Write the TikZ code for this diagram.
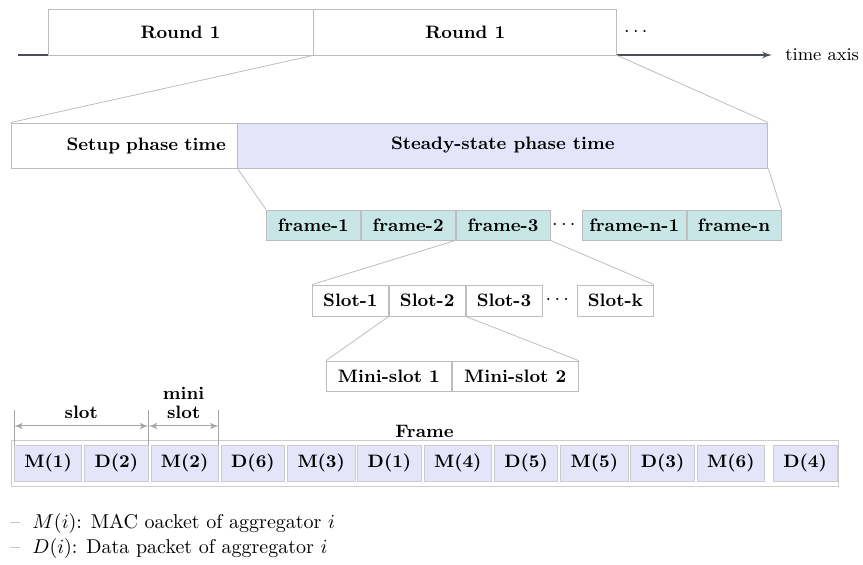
\documentclass[tikz,border=0pt]{standalone}
\usepackage{amsmath}
\usepackage{tikz}
\usetikzlibrary{arrows,positioning}
\definecolor{edgegray}{HTML}{BDBDBD}
\definecolor{axisgray}{HTML}{4A4F57}
\definecolor{phaseblue}{HTML}{E5E5FA}
\definecolor{frameteal}{HTML}{C8E6E6}
\tikzset{
  basenode/.style = {align=center, inner sep=0pt, font=\small\bfseries, draw=edgegray, fill=white},
  RoundNode/.style = {basenode, minimum height=23pt},
  PhaseNode/.style = {basenode, minimum height=22.5pt},
  FrameNode/.style = {basenode, fill=frameteal, inner xsep=3.5pt, minimum width=47pt, minimum height=15pt},
  SlotNode/.style = {basenode, minimum width=38pt, minimum height=15.5pt},
  MiniNode/.style = {basenode, minimum height=15pt},
  CellNode/.style = {basenode, fill=phaseblue, draw=gray!40, inner xsep=5pt, minimum height=18pt},
  Dots/.style = {inner sep=0pt},
  ZoomLine/.style = {draw=edgegray, line width=0.4pt},
  DimLine/.style = {draw=gray!70, line width=0.5pt}
}
\begin{document}
\begin{tikzpicture}[x=0.5pt,y=-0.5pt,>=latex']
\useasboundingbox (0,0) rectangle (863,565);
\coordinate (axisstart) at (18,55);
\node[anchor=west, inner sep=0pt, font=\small] (timeaxis) at (785,55) {time axis};
\draw[->, axisgray, line width=0.7pt, shorten >=6.5pt] (axisstart) -- (timeaxis.west);
\node[RoundNode, minimum width=132.5pt] (round1) at (180.5,32) {Round 1};
\node[RoundNode, minimum width=151.5pt, right=0pt of round1] (round2) {Round 1};
\node[Dots] (rounddots) at (637.5,32) {$\cdots$};

\node[PhaseNode, text width=102pt, inner xsep=5.5pt, align=right] (setup) at (124,145.5) {Setup phase time};
\node[PhaseNode, fill=phaseblue, minimum width=265pt, right=0pt of setup] (steady) {Steady-state phase time};
\draw[ZoomLine] (round2.south west) -- (setup.north west);
\draw[ZoomLine] (round2.south east) -- (steady.north east);

\node[FrameNode, anchor=west] (frame1) at (266,225) {frame-1};
\node[FrameNode, right=0pt of frame1] (frame2) {frame-2};
\node[FrameNode, right=0pt of frame2] (frame3) {frame-3};
\node[Dots] (framedots) at (565.5,225) {$\cdots$};
\node[FrameNode, anchor=west] (framen1) at (582,225) {frame-n-1};
\node[FrameNode, right=0pt of framen1] (framen) {frame-n};
\draw[ZoomLine] (setup.south east) -- (frame1.north west);
\draw[ZoomLine] (steady.south east) -- (framen.north east);

\node[SlotNode, anchor=west] (slot1) at (312,300.5) {Slot-1};
\node[SlotNode, right=0pt of slot1] (slot2) {Slot-2};
\node[SlotNode, right=0pt of slot2] (slot3) {Slot-3};
\node[Dots] (slotdots) at (559,300.5) {$\cdots$};
\node[SlotNode, anchor=west] (slotk) at (577,300.5) {Slot-k};
\draw[ZoomLine] (frame2.south east) -- (slot1.north west);
\draw[ZoomLine] (frame3.south east) -- (slotk.north east);

\node[MiniNode, minimum width=62.5pt, anchor=west] (mini1) at (326,376) {Mini-slot 1};
\node[MiniNode, minimum width=63pt, right=0pt of mini1] (mini2) {Mini-slot 2};
\draw[ZoomLine] (slot1.south east) -- (mini1.north west);
\draw[ZoomLine] (slot2.south east) -- (mini2.north east);

\node[basenode, draw=gray!40, minimum width=413.5pt, minimum height=23pt] (frame) at (424.5,463) {};
\node[font=\small\bfseries, inner sep=1pt, above=0pt of frame] (framelabel) {Frame};
\coordinate (c0) at (12,463);
\foreach \pkt [count=\i, remember=\i as \j (initially 0)] in {M(1),D(2),M(2),D(6),M(3),D(1),M(4),D(5),M(5),D(3),M(6)}
  \node[CellNode, right=1pt of c\j] (c\i) {\pkt};
\node[CellNode, right=4pt of c11] (c12) {D(4)};

\coordinate (tick1) at (c1.north west |- 0,410);
\coordinate (tick2) at (c2.north east |- 0,410);
\coordinate (tick3) at (c3.north east |- 0,410);
\draw[DimLine] (c1.north west) -- (tick1);
\draw[DimLine] (c2.north east) -- (tick2);
\draw[DimLine] (c3.north east) -- (tick3);
\coordinate (arr1) at (tick1 |- 0,426);
\coordinate (arr2) at (tick2 |- 0,426);
\coordinate (arr3) at (tick3 |- 0,426);
\draw[DimLine, <->] (arr1) -- node[above, font=\small\bfseries] (slotlabel) {slot} (arr2);
\draw[DimLine, <->] (arr2) -- node[above, align=center, font=\small\bfseries] (minilabel) {mini\\[-1.5pt]slot} (arr3);

\node[anchor=west, inner sep=0pt] (legendM) at (10,524) {\textcolor{gray}{--}\hspace{6pt}$M(i)$: MAC oacket of aggregator $i$};
\node[anchor=west, inner sep=0pt] (legendD) at (10,549) {\textcolor{gray}{--}\hspace{6pt}$D(i)$: Data packet of aggregator $i$};
\end{tikzpicture}
\end{document}
